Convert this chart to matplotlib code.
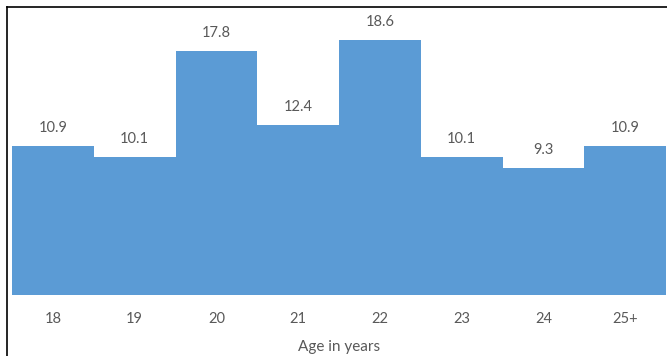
import matplotlib
matplotlib.use("Agg")
import matplotlib.pyplot as plt
from matplotlib.lines import Line2D

ages = ["18", "19", "20", "21", "22", "23", "24", "25+"]
percent = [10.9, 10.1, 17.8, 12.4, 18.6, 10.1, 9.3, 10.9]

plt.rcParams["font.family"] = ["Lato", "DejaVu Sans"]
text_color = "#595959"

fig = plt.figure(figsize=(6.67, 3.56), dpi=100)
ax = fig.add_axes([12 / 667, 1 - 295 / 356, 654 / 667, 274 / 356])

x = range(len(ages))
ax.bar(x, percent, width=1.0, color="#5B9BD5", linewidth=0)
for i, v in zip(x, percent):
    ax.annotate(f"{v}", (i, v), xytext=(0, 13), textcoords="offset points",
                ha="center", va="center", fontsize=10.5, color=text_color)

ax.set_xlim(-0.5, len(ages) - 0.5)
ax.set_ylim(0, 20)
ax.set_xticks(list(x))
ax.set_xticklabels(ages, fontsize=10.5, color=text_color)
ax.tick_params(axis="x", length=0, pad=12)
ax.set_yticks([])
ax.set_xlabel("Age in years", fontsize=11, color=text_color, labelpad=10)
for s in ax.spines.values():
    s.set_visible(False)

# frame lines on top and left of the picture
fig.add_artist(Line2D([7 / 667, 1], [1 - 7 / 356, 1 - 7 / 356], color="black", lw=1.2))
fig.add_artist(Line2D([7 / 667, 7 / 667], [0, 1 - 7 / 356], color="black", lw=1.2))

fig.savefig("out.png", dpi=100)
